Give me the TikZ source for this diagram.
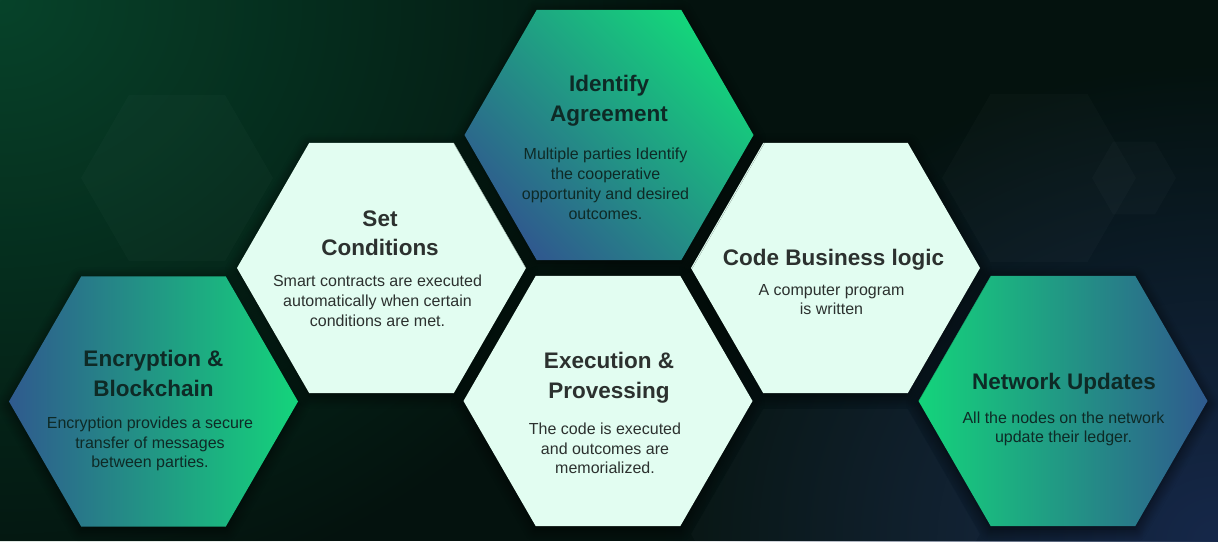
\documentclass[tikz,border=0pt]{standalone}
\usepackage{fontspec}
\setmainfont{Liberation Sans}
\usetikzlibrary{shapes.geometric, shadows.blur, fadings}

\definecolor{bgBase}{HTML}{04120E}
\definecolor{bgGreen}{HTML}{07432A}
\definecolor{bgNavy}{HTML}{16284A}
\definecolor{mint}{HTML}{E2FDF1}
\definecolor{hexGreen}{HTML}{14D47B}
\definecolor{hexBlue}{HTML}{2F5A8E}
\definecolor{inkDark}{HTML}{0E2A26}
\definecolor{inkLight}{HTML}{2C312F}

\tikzfading[name=glow, inner color=transparent!0, outer color=transparent!100]

\begin{document}
\begin{tikzpicture}[x=1pt, y=-1pt,
  hexbase/.style={regular polygon, regular polygon sides=6, minimum size=289pt,
    inner sep=0pt, outer sep=0pt},
  cell/.style={hexbase, blur shadow={shadow xshift=0pt, shadow yshift=-3pt,
    shadow blur radius=12pt, shadow opacity=70, shadow blur steps=14}},
  lightcell/.style={cell, fill=mint},
  ghost/.style={regular polygon, regular polygon sides=6, inner sep=0pt,
    outer sep=0pt, fill=white, fill opacity=0.018},
  hextitle/.style={anchor=base, inner sep=0pt, font=\fontsize{22.5}{26}\selectfont\bfseries},
  hexbody/.style={anchor=base, inner sep=0pt, font=\fontsize{16}{20}\selectfont},
  ondark/.style={text=inkDark},
  onlight/.style={text=inkLight},
]

% backdrop: dark base with a green glow top left and a navy glow bottom right
\path[use as bounding box] (0,0) rectangle (1218,541);
\fill[bgBase] (0,0) rectangle (1218,541);
\begin{scope}
  \clip (0,0) rectangle (1218,541);
  \fill[bgGreen, path fading=glow] (0,0) ellipse [x radius=700, y radius=620];
  \fill[bgNavy, path fading=glow] (1218,541) ellipse [x radius=560, y radius=480];
\end{scope}

% faint decorative cells
\node[ghost, minimum size=192pt] (ghostL) at (177,178) {};
\node[ghost, minimum size=194pt] (ghostR) at (1039,178) {};
\node[ghost, minimum size=84pt] (ghostS) at (1134,178) {};
\node[ghost, minimum size=289pt] (ghostB) at (835.5,534) {};

% main cells
\node[cell, left color=hexBlue, right color=hexGreen] (enc) at (153.5,401.5) {};
\node[cell, left color=hexGreen, right color=hexBlue] (net) at (1063,401) {};
\node[lightcell] (set) at (381.5,268) {};
\node[lightcell] (code) at (835.5,268) {};
\node[lightcell] (exec) at (608,401) {};
\node[cell, top color=hexGreen, bottom color=hexBlue, shading angle=-45] (ident) at (609,135) {};

% Encryption & Blockchain
\node[hextitle, ondark] (enc-t1) at (153.5,366.7) {Encryption \&};
\node[hextitle, ondark] (enc-t2) at (153.5,396) {Blockchain};
\node[hexbody, ondark] (enc-b1) at (150,428.3) {Encryption provides a secure};
\node[hexbody, ondark] (enc-b2) at (150,448.3) {transfer of messages};
\node[hexbody, ondark] (enc-b3) at (150,467.7) {between parties.};

% Set Conditions
\node[hextitle, onlight] (set-t1) at (380,226) {Set};
\node[hextitle, onlight] (set-t2) at (380,255.7) {Conditions};
\node[hexbody, onlight] (set-b1) at (377.5,286.7) {Smart contracts are executed};
\node[hexbody, onlight] (set-b2) at (377.5,306.7) {automatically when certain};
\node[hexbody, onlight] (set-b3) at (377.5,326.7) {conditions are met.};

% Identify Agreement
\node[hextitle, ondark] (ident-t1) at (609,91.7) {Identify};
\node[hextitle, ondark] (ident-t2) at (609,121.7) {Agreement};
\node[hexbody, ondark] (ident-b1) at (605.5,159.3) {Multiple parties Identify};
\node[hexbody, ondark] (ident-b2) at (605.5,179.3) {the cooperative};
\node[hexbody, ondark] (ident-b3) at (605.5,199.3) {opportunity and desired};
\node[hexbody, ondark] (ident-b4) at (605.5,219) {outcomes.};

% Execution & Provessing
\node[hextitle, onlight] (exec-t1) at (609,368.3) {Execution \&};
\node[hextitle, onlight] (exec-t2) at (609,398.3) {Provessing};
\node[hexbody, onlight] (exec-b1) at (605,434) {The code is executed};
\node[hexbody, onlight] (exec-b2) at (605,454) {and outcomes are};
\node[hexbody, onlight] (exec-b3) at (605,473.3) {memorialized.};

% Code Business logic
\node[hextitle, onlight] (code-t1) at (833.5,265) {Code Business logic};
\node[hexbody, onlight] (code-b1) at (831.5,295) {A computer program};
\node[hexbody, onlight] (code-b2) at (831.5,314) {is written};

% Network Updates
\node[hextitle, ondark] (net-t1) at (1064,389.3) {Network Updates};
\node[hexbody, ondark] (net-b1) at (1063.5,423.3) {All the nodes on the network};
\node[hexbody, ondark] (net-b2) at (1063.5,442.7) {update their ledger.};

\end{tikzpicture}
\end{document}
